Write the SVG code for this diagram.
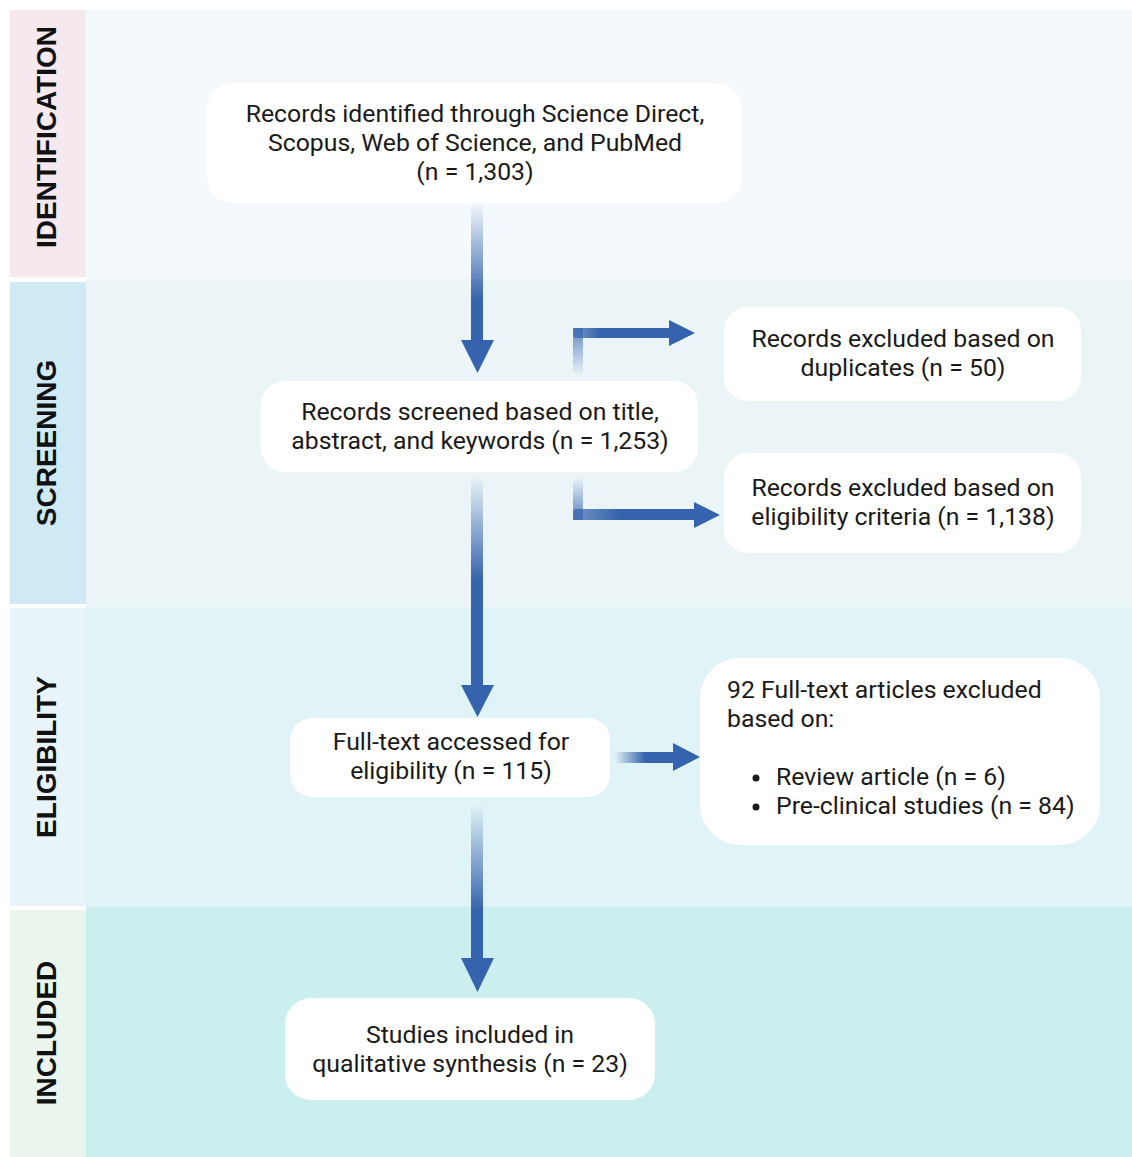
<svg xmlns="http://www.w3.org/2000/svg" width="1132" height="1157" viewBox="0 0 1132 1157">
<style>
.lab{font-family:"Liberation Sans",Arial,sans-serif;font-weight:bold;font-size:28px;fill:#111;text-anchor:middle;dominant-baseline:central}
.t{font-family:Roboto,"Liberation Sans",sans-serif;font-size:24.8px;fill:#1a1a1a;text-anchor:middle}
.tl{font-family:Roboto,"Liberation Sans",sans-serif;font-size:24.8px;fill:#1a1a1a}
.box{fill:#ffffff}
.head{fill:#3563ad}
</style>
<defs>
<linearGradient id="gv1" gradientUnits="userSpaceOnUse" x1="0" y1="203" x2="0" y2="300"><stop offset="0" stop-color="#3563ad" stop-opacity="0"/><stop offset="1" stop-color="#3563ad"/></linearGradient>
<linearGradient id="gv3" gradientUnits="userSpaceOnUse" x1="0" y1="476" x2="0" y2="580"><stop offset="0" stop-color="#3563ad" stop-opacity="0"/><stop offset="1" stop-color="#3563ad"/></linearGradient>
<linearGradient id="gv5" gradientUnits="userSpaceOnUse" x1="0" y1="805" x2="0" y2="910"><stop offset="0" stop-color="#3563ad" stop-opacity="0"/><stop offset="1" stop-color="#3563ad"/></linearGradient>
<linearGradient id="gb1v" gradientUnits="userSpaceOnUse" x1="0" y1="376" x2="0" y2="330"><stop offset="0" stop-color="#3563ad" stop-opacity="0"/><stop offset="1" stop-color="#3563ad" stop-opacity="0.7"/></linearGradient>
<linearGradient id="gb1h" gradientUnits="userSpaceOnUse" x1="573" y1="0" x2="600" y2="0"><stop offset="0" stop-color="#3563ad" stop-opacity="0.6"/><stop offset="1" stop-color="#3563ad"/></linearGradient>
<linearGradient id="gb2v" gradientUnits="userSpaceOnUse" x1="0" y1="477" x2="0" y2="515"><stop offset="0" stop-color="#3563ad" stop-opacity="0"/><stop offset="1" stop-color="#3563ad" stop-opacity="0.7"/></linearGradient>
<linearGradient id="gb2h" gradientUnits="userSpaceOnUse" x1="573" y1="0" x2="620" y2="0"><stop offset="0" stop-color="#3563ad" stop-opacity="0.65"/><stop offset="1" stop-color="#3563ad"/></linearGradient>
<linearGradient id="gh4" gradientUnits="userSpaceOnUse" x1="615" y1="0" x2="645" y2="0"><stop offset="0" stop-color="#3563ad" stop-opacity="0"/><stop offset="1" stop-color="#3563ad"/></linearGradient>
</defs>
<rect width="1132" height="1157" fill="#ffffff"/>
<g id="bands">
<rect x="86" y="10" width="1046" height="269" fill="#f3f9fc"/>
<rect x="10" y="10" width="76" height="267" fill="#f6e8ef"/>
<rect x="86" y="279" width="1046" height="328" fill="#ebf5f8"/>
<rect x="10" y="282" width="76" height="322" fill="#cfeaf5"/>
<rect x="86" y="607" width="1046" height="300" fill="#e0f3f6"/>
<rect x="10" y="608" width="76" height="298" fill="#e9f4fa"/>
<rect x="86" y="907" width="1046" height="250" fill="#cbefef"/>
<rect x="10" y="910" width="76" height="247" fill="#eaf5ee"/>
<text class="lab" transform="translate(46,137) rotate(-90)">IDENTIFICATION</text>
<text class="lab" transform="translate(46,443) rotate(-90)">SCREENING</text>
<text class="lab" transform="translate(46,757) rotate(-90)">ELIGIBILITY</text>
<text class="lab" transform="translate(46,1033) rotate(-90)">INCLUDED</text>
</g>
<g id="connectors">
<rect x="471" y="203" width="12" height="138" fill="url(#gv1)"/>
<polygon class="head" points="461,340 494,340 477.5,373"/>
<rect x="573" y="328" width="10" height="48" fill="url(#gb1v)"/>
<rect x="573" y="328" width="98" height="10" rx="3" fill="url(#gb1h)"/>
<polygon class="head" points="669,320 669,346 695,333"/>
<rect x="573" y="477" width="10" height="43" fill="url(#gb2v)"/>
<rect x="573" y="509" width="123" height="11" rx="3" fill="url(#gb2h)"/>
<polygon class="head" points="694,502 694,528 720,515"/>
<rect x="471" y="476" width="12" height="210" fill="url(#gv3)"/>
<polygon class="head" points="461,685 494,685 477.5,717"/>
<rect x="615" y="752" width="60" height="11" fill="url(#gh4)"/>
<polygon class="head" points="673,743 673,771 700,757"/>
<rect x="471" y="805" width="12" height="155" fill="url(#gv5)"/>
<polygon class="head" points="461,958 494,958 477.5,992"/>
</g>
<g id="n1">
<rect class="box" x="207" y="83" width="535" height="120" rx="26"/>
<text class="t" x="475" y="122">Records identified through Science Direct,</text>
<text class="t" x="475" y="151">Scopus, Web of Science, and PubMed</text>
<text class="t" x="475" y="180">(n = 1,303)</text>
</g>
<g id="n2">
<rect class="box" x="261" y="381" width="437" height="91" rx="24"/>
<text class="t" x="480" y="420">Records screened based on title,</text>
<text class="t" x="480" y="449">abstract, and keywords (n = 1,253)</text>
</g>
<g id="n3">
<rect class="box" x="724" y="307" width="357" height="94" rx="24"/>
<text class="t" x="903" y="347">Records excluded based on</text>
<text class="t" x="903" y="376">duplicates (n = 50)</text>
</g>
<g id="n4">
<rect class="box" x="724" y="453" width="357" height="100" rx="24"/>
<text class="t" x="903" y="496">Records excluded based on</text>
<text class="t" x="903" y="525">eligibility criteria (n = 1,138)</text>
</g>
<g id="n5">
<rect class="box" x="290" y="718" width="320" height="79" rx="22"/>
<text class="t" x="451" y="750">Full-text accessed for</text>
<text class="t" x="451" y="779">eligibility (n = 115)</text>
</g>
<g id="n6">
<rect class="box" x="700" y="658" width="400" height="187" rx="40"/>
<text class="tl" x="727" y="698">92 Full-text articles excluded</text>
<text class="tl" x="727" y="727">based on:</text>
<circle cx="756" cy="778" r="3.5" fill="#1a1a1a"/>
<circle cx="756" cy="807" r="3.5" fill="#1a1a1a"/>
<text class="tl" x="776" y="785">Review article (n = 6)</text>
<text class="tl" x="776" y="814">Pre-clinical studies (n = 84)</text>
</g>
<g id="n7">
<rect class="box" x="285" y="998" width="370" height="102" rx="26"/>
<text class="t" x="470" y="1043">Studies included in</text>
<text class="t" x="470" y="1072">qualitative synthesis (n = 23)</text>
</g>
</svg>
